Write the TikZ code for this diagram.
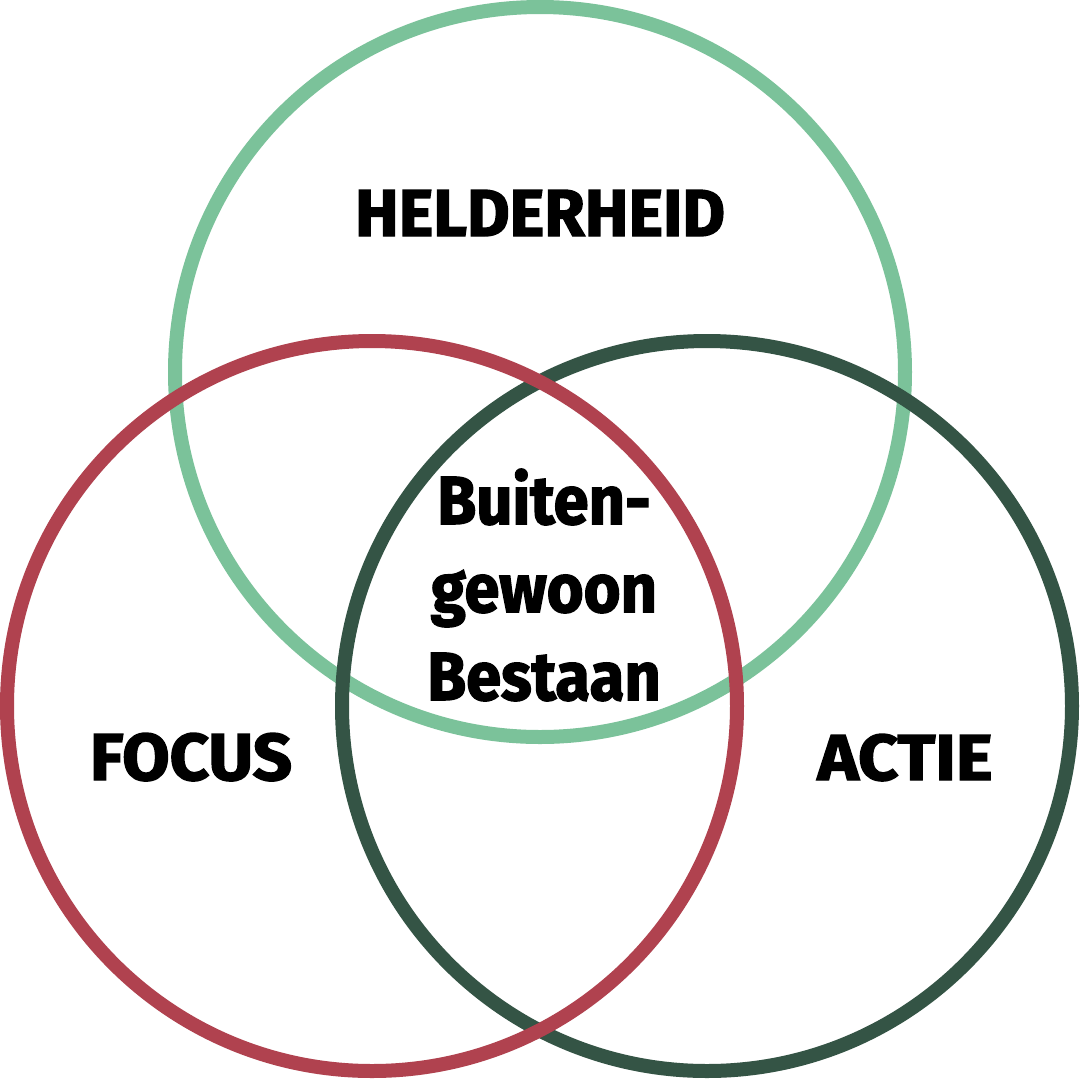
\documentclass[tikz,border=0pt]{standalone}
\usepackage{fontspec}
\setmainfont{Fira Sans}[BoldFeatures={FakeBold=2.2}]
\usepackage{graphicx}
\definecolor{cgreen}{HTML}{7BC29A}
\definecolor{cred}{HTML}{B0424F}
\definecolor{cdark}{HTML}{345445}
\tikzset{
  ring/.style={line width=14pt, draw=#1},
  lbl/.style={inner sep=0pt, font=\bfseries\fontsize{68}{88}\selectfont, anchor=base}
}
\begin{document}
\begin{tikzpicture}[x=1pt,y=-1pt]
\useasboundingbox[fill=white] (0,0) rectangle (1080,1080);
\node[ring=cgreen, circle, minimum size=730pt, inner sep=0pt] (help) at (540,372) {};
\node[ring=cdark, circle, minimum size=730pt, inner sep=0pt] (act) at (707,706) {};
\node[ring=cred, circle, minimum size=730pt, inner sep=0pt] (foc) at (372,706) {};
\node[lbl] (t1) at (540,236) {\resizebox{370pt}{46pt}{HELDERHEID}};
\node[lbl] (t2) at (191,780) {\resizebox{202pt}{47pt}{FOCUS}};
\node[lbl] (t3) at (905,780) {\resizebox{175pt}{46pt}{ACTIE}};
\node[lbl] (c1) at (544,524) {\scalebox{0.93}[1]{Buiten-}};
\node[lbl] (c2) at (544,612) {\scalebox{0.93}[1]{gewoon}};
\node[lbl] (c3) at (544,700) {\scalebox{0.93}[1]{Bestaan}};
\end{tikzpicture}
\end{document}
